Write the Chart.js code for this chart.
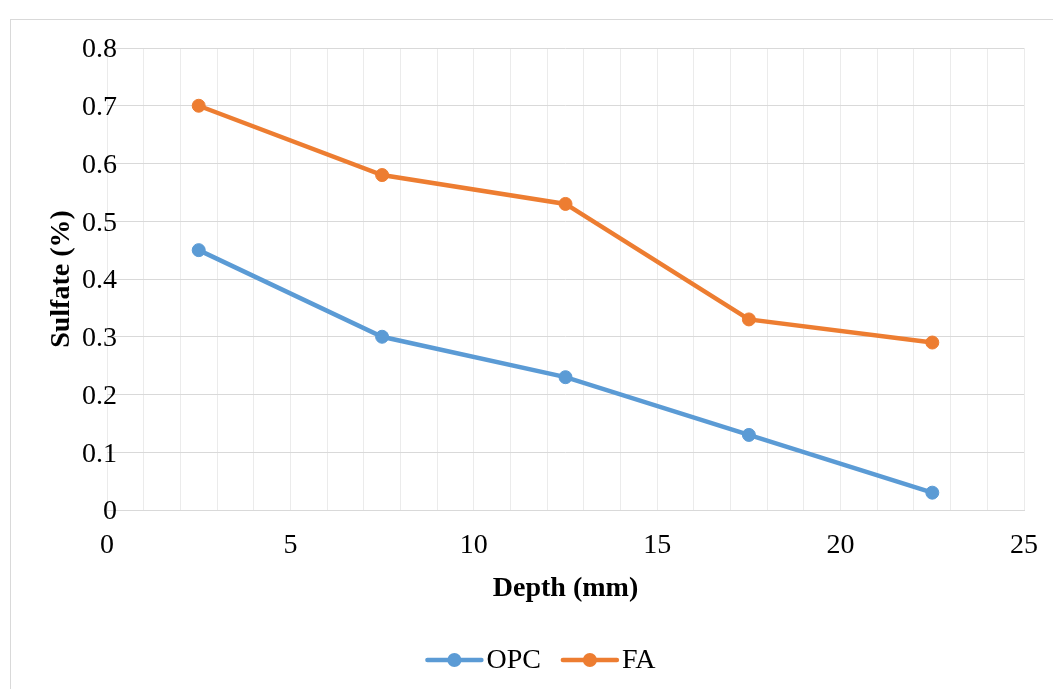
<!DOCTYPE html>
<html>
<head>
<meta charset="utf-8">
<script src="https://cdn.jsdelivr.net/npm/chart.js@4.4.1/dist/chart.umd.min.js"></script>
<style>
  html, body { margin: 0; padding: 0; background: #ffffff; overflow: hidden; width: 1053px; height: 689px; }
  #frame { position: absolute; left: 10px; top: 19px; width: 1100px; height: 1000px; border: 1px solid #d9d9d9; box-sizing: border-box; }
  #c { position: absolute; left: 0; top: 0; }
</style>
</head>
<body>
<div id="frame"></div>
<canvas id="c" width="1053" height="689"></canvas>
<script>
const depthMm = [2.5, 7.5, 12.5, 17.5, 22.5];
const opcSulfate = [0.45, 0.30, 0.23, 0.13, 0.03];
const faSulfate = [0.70, 0.58, 0.53, 0.33, 0.29];
const seriesNames = ['OPC', 'FA'];
const seriesColors = ['#5B9BD5', '#ED7D31'];
const xAxisTitle = 'Depth (mm)';
const yAxisTitle = 'Sulfate (%)';

const FONT = "'Liberation Serif', 'Times New Roman', serif";

function toPoints(xs, ys) { return xs.map((x, i) => ({ x: x, y: ys[i] })); }

const legendMarks = {
  id: 'legendMarks',
  afterLayout(chart) {
    chart.legend.left += 29;
    chart.legend.right += 29;
    // let y tick labels overhang the plot area slightly, as in the original
    if (chart.scales.y) chart.scales.y._computeLabelArea = function () { return undefined; };
  },
  afterDraw(chart) {
    const lg = chart.legend;
    const ctx = chart.ctx;
    lg.legendHitBoxes.forEach((hb, i) => {
      const color = seriesColors[i];
      const y = hb.top + hb.height / 2 - 1;
      ctx.save();
      ctx.strokeStyle = color;
      ctx.lineWidth = 4.5;
      ctx.lineCap = 'round';
      ctx.beginPath();
      ctx.moveTo(hb.left + 1, y);
      ctx.lineTo(hb.left + 55, y);
      ctx.stroke();
      ctx.fillStyle = color;
      ctx.beginPath();
      ctx.arc(hb.left + 28, y, 7, 0, Math.PI * 2);
      ctx.fill();
      ctx.restore();
    });
  }
};

new Chart(document.getElementById('c'), {
  type: 'line',
  data: {
    datasets: [
      {
        label: seriesNames[0],
        data: toPoints(depthMm, opcSulfate),
        borderColor: seriesColors[0],
        backgroundColor: seriesColors[0],
        pointBackgroundColor: seriesColors[0],
        pointBorderColor: seriesColors[0],
        borderWidth: 4.5,
        pointRadius: 6.5,
        pointBorderWidth: 1,
        tension: 0
      },
      {
        label: seriesNames[1],
        data: toPoints(depthMm, faSulfate),
        borderColor: seriesColors[1],
        backgroundColor: seriesColors[1],
        pointBackgroundColor: seriesColors[1],
        pointBorderColor: seriesColors[1],
        borderWidth: 4.5,
        pointRadius: 6.5,
        pointBorderWidth: 1,
        tension: 0
      }
    ]
  },
  options: {
    responsive: false,
    animation: false,
    layout: { padding: { top: 48, right: 29, left: 0, bottom: 4 } },
    plugins: {
      tooltip: { enabled: false },
      legend: {
        position: 'bottom',
        labels: {
          font: { family: FONT, size: 28 },
          color: '#000000',
          boxWidth: 46,
          boxHeight: 5,
          padding: 21,
          generateLabels(chart) {
            return chart.data.datasets.map((ds, i) => ({
              text: ds.label,
              fillStyle: 'rgba(0,0,0,0)',
              strokeStyle: 'rgba(0,0,0,0)',
              lineWidth: 0,
              hidden: false,
              datasetIndex: i,
              fontColor: '#000000'
            }));
          }
        }
      }
    },
    scales: {
      x: {
        type: 'linear',
        min: 0,
        max: 25,
        afterFit(s) { s.height = 116; },
        ticks: {
          stepSize: 1,
          autoSkip: false,
          maxRotation: 0,
          padding: 0,
          color: '#000000',
          font: { family: FONT, size: 28 },
          callback(v) { return v % 5 === 0 ? String(v) : ''; }
        },
        grid: { color: '#ebebeb', lineWidth: 1, drawTicks: true, tickLength: 19, tickColor: 'rgba(0,0,0,0)' },
        border: { display: true, color: '#d9d9d9', width: 1 },
        title: {
          display: true,
          text: xAxisTitle,
          color: '#000000',
          font: { family: FONT, size: 28, weight: 'bold' },
          padding: { top: 0, bottom: 20 }
        }
      },
      y: {
        min: 0,
        max: 0.8,
        afterFit(s) { s.width = 107; },
        ticks: {
          stepSize: 0.1,
          padding: -10,
          labelOffset: 2,
          color: '#000000',
          font: { family: FONT, size: 28 },
          callback(v) { return String(Math.round(v * 10) / 10); }
        },
        grid: { color: '#d9d9d9', lineWidth: 1, drawTicks: false },
        border: { display: false },
        title: {
          display: true,
          text: yAxisTitle,
          color: '#000000',
          font: { family: FONT, size: 28, weight: 'bold' },
          padding: { top: 45, bottom: 0 }
        }
      }
    }
  },
  plugins: [legendMarks]
});
</script>
</body>
</html>
